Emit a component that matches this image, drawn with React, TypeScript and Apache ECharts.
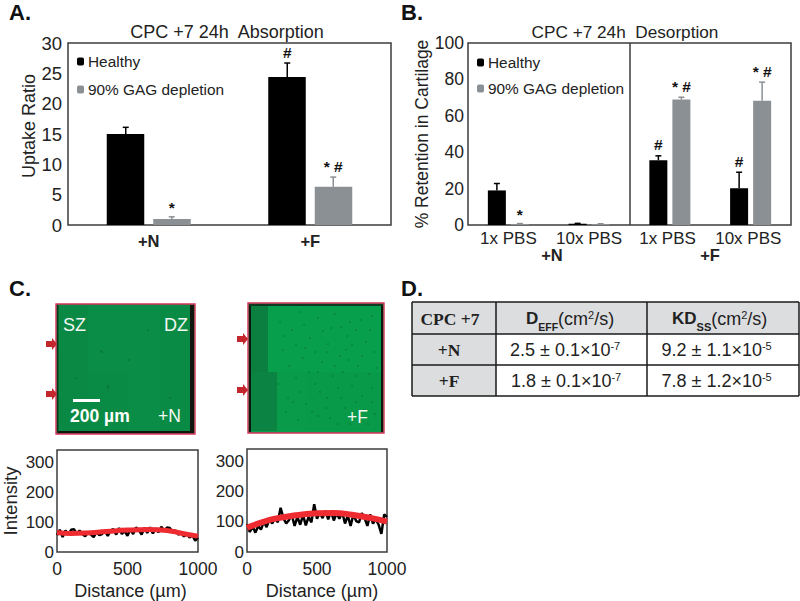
import React, { useEffect, useRef } from "react";
import * as echarts from "echarts";

const SANS = "Liberation Sans";
const SERIF = "Liberation Serif";
const INK = "#222222";
const BLACK = "#000000";
const GREY = "#8b9095";
const RED = "#ee2b30";
const FRAME = "#3c3c3c";
const CRIMSON = "#d8305a";

const groupsA = ["+N", "+F"];
const healthyA = [15, 24.4];
const healthyAErr = [16.1, 26.7];
const healthyAMarks = ["", "#"];
const depletedA = [1, 6.3];
const depletedAErr = [1.35, 7.9];
const depletedAMarks = ["*", "* #"];

const groupsB = ["1x PBS", "10x PBS", "1x PBS ", "10x PBS "];
const healthyB = [19, 0.7, 35.6, 20.2];
const healthyBErr = [22.8, 0.9, 38, 29];
const healthyBMarks = ["", "", "#", "#"];
const depletedB = [0.5, 0.5, 69, 68.3];
const depletedBErr = [0.8, 0.7, 70.2, 78.5];
const depletedBMarks = ["*", "", "* #", "* #"];

const seriesNames = ["Healthy", "90% GAG depletion"];

const rawN = [
  56, 74, 50, 72, 58, 74, 76, 60, 72, 60, 52, 66, 58, 50, 66, 56, 60, 70, 54, 72,
  76, 58, 80, 60, 70, 54, 76, 60, 82, 74, 58, 80, 64, 82, 62, 78, 66, 84, 70, 82,
  80, 66, 72, 58, 64, 52, 60, 48, 56, 38, 48,
];
const fitN = [[0, 65], [100, 62], [200, 63], [350, 68], [500, 73], [650, 75], [780, 72], [900, 61], [1000, 53]];
const rawF = [
  92, 66, 84, 64, 86, 74, 100, 82, 108, 94, 112, 98, 146, 112, 94, 106, 122, 86, 116, 90,
  122, 88, 116, 98, 158, 110, 130, 112, 136, 108, 134, 104, 128, 110, 132, 94, 120, 86, 124, 102,
  98, 128, 112, 86, 124, 94, 108, 90, 60, 124, 116,
];
const fitF = [[0, 80], [100, 97], [200, 110], [350, 121], [500, 128], [620, 129], [750, 123], [900, 111], [1000, 100]];
const intensityTicksMax = 340;

const tableHead = ["CPC +7"];
const tableRows = ["+N", "+F"];
const deffValues = ["2.5 ± 0.1×10", "1.8 ± 0.1×10"];
const deffExp = ["-7", "-7"];
const kdValues = ["9.2 ± 1.1×10", "7.8 ± 1.2×10"];
const kdExp = ["-5", "-5"];

const specksF: number[][] = [
  [300, 312], [318, 318], [335, 314], [350, 322], [372, 316], [292, 330], [310, 338], [328, 344], [347, 336], [366, 342],
  [303, 358], [322, 362], [340, 356], [358, 366], [374, 352], [296, 378], [315, 384], [333, 376], [352, 386], [369, 374],
  [288, 398], [306, 404], [327, 398], [345, 408], [362, 396], [298, 420], [318, 416], [338, 424], [375, 414], [283, 350],
  [356, 330], [343, 372], [326, 408], [309, 372], [365, 410], [280, 322], [372, 388], [289, 366], [346, 350], [331, 328],
  [304, 325], [323, 331], [341, 327], [361, 320], [296, 345], [315, 352], [335, 366], [352, 345], [370, 330], [278, 384],
  [286, 412], [300, 392], [320, 392], [338, 388], [356, 402], [372, 402], [312, 412], [330, 418], [350, 424], [368, 424],
  [362, 356], [349, 360], [327, 352], [305, 348], [284, 336], [293, 402], [341, 398], [356, 376], [318, 372], [377, 368],
];
const specksN: number[][] = [[101, 351], [102, 352], [108, 386], [108, 388], [76, 378], [148, 330], [129, 360], [170, 398]];

// tile seams of the scan: x, y, width, height, fill
const tilesN: [number, number, number, number, string][] = [
  [58, 306, 30, 126, "#0a8944"],
  [88, 372, 40, 60, "#0a8b45"],
  [160, 306, 30, 126, "#0a8b45"],
];
const tilesF: [number, number, number, number, string][] = [
  [250, 305, 18, 126, "#0b7f40"],
  [250, 372, 27, 59, "#0b8342"],
  [277, 372, 29, 59, "#099a4a"],
  [306, 372, 76, 59, "#099a49"],
];

function measure(text: string, font: string) {
  const ctx = document.createElement("canvas").getContext("2d")!;
  ctx.font = font;
  return ctx.measureText(text).width;
}

// writes a row of differently styled pieces of text along one baseline
function runs(x: number, y: number, parts: [string, number, string, number][]) {
  let cx = x;
  return parts.map(([text, size, weight, dy]) => {
    const el = {
      type: "text",
      x: cx,
      y: y + dy - size * 0.36,
      style: { text, fontFamily: SANS, fontSize: size, fontWeight: weight, fill: INK, textAlign: "left", textVerticalAlign: "middle" },
    };
    cx += measure(text, `${weight} ${size}px ${SANS}`);
    return el;
  });
}

function errorSeries(xi: number, yi: number, base: number[], tops: number[], marks: string[], color: string, offset: number, cap: number) {
  return {
    type: "custom",
    xAxisIndex: xi,
    yAxisIndex: yi,
    silent: true,
    clip: false,
    z: 3,
    encode: { x: 0, y: [1, 2] },
    data: base.map((b, i) => [i, b, tops[i]]),
    renderItem: (params: any, api: any) => {
      const low = api.coord([api.value(0), api.value(1)]);
      const high = api.coord([api.value(0), api.value(2)]);
      const cx = low[0] + offset;
      const mark = marks[params.dataIndex];
      const children: any[] = [
        { type: "line", shape: { x1: cx, y1: low[1], x2: cx, y2: high[1] }, style: { stroke: color, lineWidth: 1.5 } },
        { type: "line", shape: { x1: cx - cap, y1: high[1], x2: cx + cap, y2: high[1] }, style: { stroke: color, lineWidth: 1.5 } },
      ];
      if (mark) {
        children.push({
          type: "text",
          x: cx,
          y: high[1] - (mark === "*" ? 9 : 11),
          style: { text: mark, fontFamily: SANS, fontSize: 15.5, fontWeight: "bold", fill: "#111", textAlign: "center", textVerticalAlign: "middle" },
        });
      }
      return { type: "group", children };
    },
  };
}

const axisText = { fontFamily: SANS, fontSize: 17.5, color: INK };

function valueAxis(gridIndex: number, max: number, interval: number, name: string, nameGap: number, nameSize: number, margin: number, fontSize: number, namePad = 0) {
  return {
    type: "value",
    gridIndex,
    min: 0,
    max,
    interval,
    name,
    nameLocation: "middle",
    nameGap,
    nameTextStyle: { fontFamily: SANS, fontSize: nameSize, color: INK, padding: [0, 0, 0, namePad] },
    axisLine: { show: false },
    axisTick: { show: false },
    splitLine: { show: false },
    axisLabel: { ...axisText, fontSize, margin, showMaxLabel: max === intensityTicksMax ? false : true },
  };
}

function distanceAxis(gridIndex: number, namePad: number) {
  return {
    type: "value",
    gridIndex,
    min: 0,
    max: 1000,
    interval: 500,
    name: "Distance (µm)",
    nameLocation: "middle",
    nameGap: 30,
    nameTextStyle: { fontFamily: SANS, fontSize: 18, color: INK, padding: [0, 0, 0, namePad] },
    axisLine: { show: false },
    axisTick: { show: false },
    splitLine: { show: false },
    axisLabel: { ...axisText, margin: 8, formatter: (v: number) => String(v) },
  };
}

function micrograph(x: number, y: number, w: number, h: number, base: string, tiles: [number, number, number, number, string][], specks: number[][], speckR: number, speckOpacity: number) {
  return [
    { type: "rect", shape: { x, y, width: w, height: h }, style: { fill: base } },
    ...tiles.map(([tx, ty, tw, th, fill]) => ({ type: "rect", shape: { x: tx, y: ty, width: tw, height: th }, style: { fill } })),
    ...specks.map(([cx, cy]) => ({ type: "circle", shape: { cx, cy, r: speckR }, style: { fill: "#0a6a36", opacity: speckOpacity } })),
  ];
}

function arrow(x: number, y: number) {
  return {
    type: "polygon",
    shape: { points: [[x, y - 3], [x + 6, y - 3], [x + 6, y - 6], [x + 11, y], [x + 6, y + 6], [x + 6, y + 3], [x, y + 3]] },
    style: { fill: "#c4262e" },
  };
}

function label(text: string, x: number, y: number, size: number, weight = "normal", fill = INK, align = "left", family = SANS) {
  return {
    type: "text",
    x,
    y,
    style: { text, fontFamily: family, fontSize: size, fontWeight: weight, fill, textAlign: align, textVerticalAlign: "middle" },
  };
}

function outline(x: number, y: number, width: number, height: number, stroke: string, lineWidth: number) {
  return { type: "rect", shape: { x, y, width, height }, style: { fill: "none", stroke, lineWidth } };
}

function tableGraphics() {
  const left = 412, right = 799, top = 302, bottom = 396;
  const c1 = 496, c2 = 647, r1 = 334, r2 = 365;
  const els: any[] = [
    { type: "rect", shape: { x: left, y: top, width: right - left, height: r1 - top }, style: { fill: "#dcdddf" } },
    { type: "rect", shape: { x: left, y: r1, width: c1 - left, height: bottom - r1 }, style: { fill: "#dcdddf" } },
  ];
  [[left, top, left, bottom], [c1, top, c1, bottom], [c2, top, c2, bottom], [right, top, right, bottom],
   [left, top, right, top], [left, r1, right, r1], [left, r2, right, r2], [left, bottom, right, bottom]].forEach(([x1, y1, x2, y2]) => {
    els.push({ type: "line", shape: { x1, y1, x2, y2 }, style: { stroke: "#1a1a1a", lineWidth: 1.5 } });
  });
  els.push(label(tableHead[0], 450, 319, 17.5, "bold", INK, "center", SERIF));
  tableRows.forEach((t, i) => els.push(label(t, 449, [350, 381][i], 17.5, "bold", INK, "center", SERIF)));
  els.push(...runs(526, 325, [["D", 17, "bold", 0], ["EFF", 10.5, "bold", 6], ["(cm", 18, "normal", 0], ["2", 11, "normal", -6], ["/s)", 18, "normal", 0]]));
  els.push(...runs(672, 325, [["KD", 17, "bold", 0], ["SS", 11, "bold", 6], ["(cm", 18, "normal", 0], ["2", 11, "normal", -6], ["/s)", 18, "normal", 0]]));
  [356, 387].forEach((y, i) => {
    els.push(...runs(i === 0 ? 510 : 511, y, [[deffValues[i], 18, "normal", 0], [deffExp[i], 11, "normal", -6]]));
    els.push(...runs(661.5, y, [[kdValues[i], 18, "normal", 0], [kdExp[i], 11, "normal", -6]]));
  });
  return els;
}

function buildOption() {
  const frame = { show: true, borderColor: FRAME, borderWidth: 1.5, backgroundColor: "#ffffff" };
  const titleStyle = { fontFamily: SANS, fontSize: 18, fontWeight: "normal", color: INK };
  const legendText = { fontFamily: SANS, fontSize: 15.4, color: INK, padding: [0, 0, 0, -1] };
  return {
    animation: false,
    backgroundColor: "#ffffff",
    title: [
      { text: "CPC +7 24h  Absorption", left: 222, top: 18, textAlign: "center", textStyle: titleStyle },
      { text: "CPC +7 24h  Desorption", left: 620, top: 18, textAlign: "center", textStyle: { ...titleStyle, fontSize: 17.2 } },
    ],
    legend: [
      { data: seriesNames, orient: "vertical", left: 72, top: 49, itemWidth: 7, itemHeight: 8, itemGap: 13, selectedMode: false, textStyle: legendText },
      { data: seriesNames, orient: "vertical", left: 472, top: 50, itemWidth: 7, itemHeight: 8, itemGap: 11, selectedMode: false, textStyle: legendText },
    ],
    grid: [
      { left: 68, top: 43, width: 323, height: 182, ...frame },
      { left: 468, top: 43, width: 323, height: 182, ...frame },
      { left: 56, top: 450, width: 142, height: 105, ...frame },
      { left: 247, top: 449, width: 140, height: 106, ...frame },
    ],
    xAxis: [
      {
        type: "category", gridIndex: 0, data: groupsA,
        axisLine: { show: false }, axisTick: { show: false },
        axisLabel: { ...axisText, fontSize: 16.5, fontWeight: "bold", margin: 7, interval: 0 },
      },
      {
        type: "category", gridIndex: 1, data: groupsB,
        axisLine: { show: false }, axisTick: { show: false },
        axisLabel: { ...axisText, fontSize: 17, margin: 5, interval: 0 },
      },
      distanceAxis(2, 6),
      distanceAxis(3, 10),
    ],
    yAxis: [
      valueAxis(0, 30, 5, "Uptake Ratio", 30, 18, 6, 18.5, 16),
      valueAxis(1, 100, 20, "% Retention in Cartilage", 37, 17.5, 4, 17.5),
      valueAxis(2, intensityTicksMax, 100, "Intensity", 37, 18.5, 3, 17),
      valueAxis(3, intensityTicksMax, 100, "", 0, 17, 3, 17),
    ],
    series: [
      { name: seriesNames[0], type: "bar", xAxisIndex: 0, yAxisIndex: 0, data: healthyA, barWidth: 37.5, barGap: "24%", itemStyle: { color: BLACK } },
      { name: seriesNames[1], type: "bar", xAxisIndex: 0, yAxisIndex: 0, data: depletedA, barWidth: 37.5, barGap: "24%", itemStyle: { color: GREY } },
      errorSeries(0, 0, healthyA, healthyAErr, healthyAMarks, BLACK, -23, 3),
      errorSeries(0, 0, depletedA, depletedAErr, depletedAMarks, GREY, 23, 3),
      { name: seriesNames[0], type: "bar", xAxisIndex: 1, yAxisIndex: 1, data: healthyB, barWidth: 18, barGap: "28%", itemStyle: { color: BLACK } },
      { name: seriesNames[1], type: "bar", xAxisIndex: 1, yAxisIndex: 1, data: depletedB, barWidth: 18, barGap: "28%", itemStyle: { color: GREY } },
      errorSeries(1, 1, healthyB, healthyBErr, healthyBMarks, BLACK, -11.5, 3),
      errorSeries(1, 1, depletedB, depletedBErr, depletedBMarks, GREY, 11.5, 3),
      { type: "line", xAxisIndex: 2, yAxisIndex: 2, showSymbol: false, silent: true, data: rawN.map((v, i) => [i * 20, v]), lineStyle: { color: BLACK, width: 2.5 } },
      { type: "line", xAxisIndex: 2, yAxisIndex: 2, showSymbol: false, silent: true, smooth: true, z: 4, data: fitN, lineStyle: { color: RED, width: 5 } },
      { type: "line", xAxisIndex: 3, yAxisIndex: 3, showSymbol: false, silent: true, data: rawF.map((v, i) => [i * 20, v]), lineStyle: { color: BLACK, width: 2.5 } },
      { type: "line", xAxisIndex: 3, yAxisIndex: 3, showSymbol: false, silent: true, smooth: true, z: 4, data: fitF, lineStyle: { color: RED, width: 6 } },
    ],
    graphic: [
      label("A.", 9, 12, 22, "bold", "#111"),
      label("B.", 401, 12, 22, "bold", "#111"),
      label("C.", 9, 288, 22, "bold", "#111"),
      label("D.", 401, 288, 22, "bold", "#111"),
      label("+N", 552, 255, 16.5, "bold", INK, "center"),
      label("+F", 710, 255, 16.5, "bold", INK, "center"),
      { type: "line", shape: { x1: 630, y1: 43, x2: 630, y2: 225 }, style: { stroke: FRAME, lineWidth: 1.5 } },
      ...micrograph(56, 304, 139, 130, "#0a8e47", tilesN, specksN, 0.9, 0.7),
      { type: "rect", shape: { x: 190, y: 305, width: 4, height: 128 }, style: { fill: "#101510" } },
      { type: "rect", shape: { x: 57, y: 431, width: 137, height: 2.5 }, style: { fill: "#101510" } },
      { type: "rect", shape: { x: 57, y: 305, width: 1.5, height: 128 }, style: { fill: "#0c3a20" } },
      outline(56, 304, 139, 130, CRIMSON, 1.4),
      ...micrograph(248, 303, 136, 130, "#089f4c", tilesF, specksF, 0.9, 0.55),
      { type: "rect", shape: { x: 249, y: 304, width: 2, height: 128 }, style: { fill: "#101510" } },
      { type: "rect", shape: { x: 381, y: 304, width: 2, height: 128 }, style: { fill: "#101510" } },
      { type: "rect", shape: { x: 249, y: 304, width: 134, height: 2 }, style: { fill: "#0c3a20" } },
      outline(248, 303, 136, 130, CRIMSON, 1.4),
      arrow(46, 344),
      arrow(46, 394),
      arrow(237, 339),
      arrow(237, 390),
      label("SZ", 63, 325, 18, "normal", "#f4f8f4"),
      label("DZ", 164, 325, 18, "normal", "#f4f8f4"),
      { type: "rect", shape: { x: 73, y: 399, width: 27, height: 3 }, style: { fill: "#ffffff" } },
      label("200 µm", 70, 416, 17.5, "bold", "#ffffff"),
      label("+N", 158, 416, 17.5, "normal", "#f4f8f4"),
      label("+F", 347, 417, 17.5, "normal", "#f4f8f4"),
      ...tableGraphics(),
    ],
  };
}

export default function App() {
  const ref = useRef<HTMLDivElement>(null);
  useEffect(() => {
    const chart = echarts.init(ref.current!, undefined, { renderer: "svg" });
    chart.setOption(buildOption() as any);
    return () => chart.dispose();
  }, []);
  return <div ref={ref} style={{ position: "fixed", left: 0, top: 0, width: 800, height: 601 }} />;
}
